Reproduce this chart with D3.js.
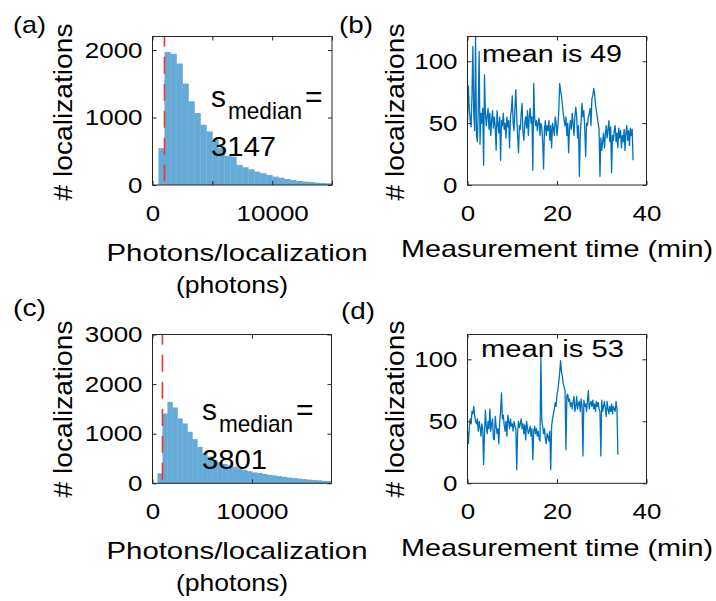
<!DOCTYPE html>
<html><head><meta charset="utf-8">
<script src="https://cdn.jsdelivr.net/npm/d3@7"></script>
<style>
body{margin:0;background:#fff}
svg{display:block}
text{font-family:"Liberation Sans",Arial,Helvetica,sans-serif;fill:#000}
</style>
</head><body>
<svg id="c" width="716" height="601"></svg>
<script>
// ---------- data ----------
const histBinStart = 500;          // photons, left edge of first bin
const histBinWidth = 500;          // photons per bin
const histA_counts = [546,1969,1944,1800,1503,1240,1066,893,794,670,546,432,422,298,263,233,198,174,149,124,109,89,74,60,50,45,35,30,25];
const histC_counts = [201,1408,1642,1529,1308,1207,1038,891,736,604,540,470,430,390,360,335,300,270,245,220,210,190,170,160,145,130,115,105,95,85,75,65,60,50,45];
const thresholdPhotons = 1000;
const medianA = "3147";
const medianC = "3801";

const sampleMinutes = 0.2;         // sampling interval of the time series
const seriesB = [50,80,62,52,47, 72,112,58,44,120, 40,35,62,108,33, 58,50,62,16,89,
  58,48,56,62,45, 58,40,52,60,46, 55,47,28,60,50, 42,55,20,52,48,
  58,45,50,38,55, 47,52,30,55,60, 72,50,44,62,77, 55,40,26,48,45,
  58,66,42,36,50, 55,46,60,40,55, 62,50,55,12,82, 55,48,52,44,50,
  54,40,50,47,35, 13,45,52,40,48, 44,52,36,48,30, 50,46,40,55,50,
  40,48,60,82,76, 72,65,58,52,48, 55,40,50,26,46, 52,45,58,50,40,
  56,63,55,38,48, 7,40,52,66,55, 60,45,23,50,48, 55,58,62,48,70,
  72,78,74,65,60, 55,50,45,7,38, 28,35,42,30,40, 48,38,45,52,35,
  47,10,40,36,44, 48,35,42,30,46, 38,44,30,40,35, 45,28,42,48,36,
  44,32,46,40,45,20];
const seriesD = [42,32,45,52,48, 58,56,62,55,50, 48,52,42,50,45, 38,48,44,15,40,
  59,46,40,50,44, 60,42,48,52,36, 35,54,46,40,44, 32,50,58,73,52,
  55,47,42,50,38, 55,50,44,52,46, 48,42,50,46,44, 11,42,50,45,48,
  52,44,48,40,47, 35,50,45,40,42, 46,38,44,19,42, 46,40,44,38,42,
  36,34,102,50,46, 40,44,36,32,40, 38,34,42,11,46, 52,56,60,65,62,
  72,75,82,89,99, 90,86,80,78,75, 27,70,72,66,68, 62,65,60,66,70,
  58,62,70,60,64, 66,58,68,62,22, 67,62,64,58,66, 75,60,64,66,62,
  67,60,64,58,66, 62,65,60,58,22, 67,58,62,66,60, 54,66,60,56,62,
  58,64,56,62,60, 58,66,60,23];
const meanB = "49";
const meanD = "53";

const xTicksA = [0,5000,10000,15000], xLabelsA = [0,10000];
const xTicksC = [0,10000],            xLabelsC = [0,10000];
const yTicksA = [0,1000,2000];
const yTicksC = [0,1000,2000,3000];
const xTicksT = [0,20,40];
const yTicksT = [0,50,100];

// ---------- drawing ----------
const svg = d3.select("#c");
const AX = "#262626";
const TICK_SX = 1.18;

function txt(parent, s, x, y, size, opts = {}) {
  const t = parent.append("text").text(s)
    .attr("font-size", size)
    .attr("text-anchor", opts.anchor || "start");
  let tr = `translate(${x},${y})`;
  if (opts.rotate) tr += ` rotate(${opts.rotate})`;
  t.attr("transform", tr);
  if (opts.len) t.attr("textLength", opts.len).attr("lengthAdjust", "spacingAndGlyphs");
  return t;
}

function axes(g, x, y, xTicks, xLabels, yTicks) {
  const [x0, x1] = x.range(), [y1, y0] = y.range();
  const fmtX = d => xLabels.includes(d) ? String(d) : "";
  const bottom = g.append("g").attr("transform", `translate(0,${y1})`)
    .call(d3.axisBottom(x).tickValues(xTicks).tickFormat(fmtX).tickSize(-4).tickPadding(20));
  const top = g.append("g").attr("transform", `translate(0,${y0})`)
    .call(d3.axisTop(x).tickValues(xTicks).tickFormat("").tickSize(-4));
  const left = g.append("g").attr("transform", `translate(${x0},0)`)
    .call(d3.axisLeft(y).tickValues(yTicks).tickFormat(d => String(d)).tickSize(-4).tickPadding(10));
  const right = g.append("g").attr("transform", `translate(${x1},0)`)
    .call(d3.axisRight(y).tickValues(yTicks).tickFormat("").tickSize(-4));
  [bottom, top, left, right].forEach(a => {
    a.attr("font-size", 22).attr("font-family", null);
    a.select(".domain").remove();
    a.selectAll(".tick line").attr("stroke", AX).attr("stroke-width", 1);
    a.selectAll(".tick text").each(function () {
      const t = d3.select(this);
      const tx = +t.attr("x") || 0, ty = +t.attr("y") || 0;
      t.attr("x", null).attr("y", null).attr("fill", "#000")
        .attr("transform", `translate(${tx},${ty}) scale(${TICK_SX},1)`);
    });
  });
  g.append("rect").attr("x", x0).attr("y", y0).attr("width", x1 - x0).attr("height", y1 - y0)
    .attr("fill", "none").attr("stroke", AX).attr("stroke-width", 1);
}

function histPanel(counts, xmax, ymax, box, xTicks, xLabels, yTicks, median, subPos) {
  const g = svg.append("g");
  const x = d3.scaleLinear().domain([0, xmax]).range([box.x0, box.x1]);
  const y = d3.scaleLinear().domain([0, ymax]).range([box.y1, box.y0]);
  const bins = counts.map((c, i) => ({ lo: histBinStart + i * histBinWidth, hi: histBinStart + (i + 1) * histBinWidth, c }));
  g.selectAll("rect.bar").data(bins).join("rect").attr("class", "bar")
    .attr("x", d => x(d.lo)).attr("width", d => x(d.hi) - x(d.lo) + 0.4)
    .attr("y", d => y(d.c)).attr("height", d => y(0) - y(d.c))
    .attr("fill", "rgb(102,170,215)");
  g.append("line").attr("x1", x(thresholdPhotons)).attr("x2", x(thresholdPhotons))
    .attr("y1", box.y0).attr("y2", box.y1)
    .attr("stroke", "#ee3434").attr("stroke-width", 1.6)
    .attr("stroke-dasharray", "17,10").attr("stroke-dashoffset", 6.7);
  axes(g, x, y, xTicks, xLabels, yTicks);
  // s_median = value
  txt(g, "s", subPos.x, subPos.y, 30);
  txt(g, "median", subPos.x + 17, subPos.y + 11.5, 24, { len: 74 });
  txt(g, "=", subPos.x + 94, subPos.y, 30);
  txt(g, median, subPos.x, subPos.y + 48.5, 28, { len: 65 });
  return g;
}

function timePanel(series, box, mean, meanPos) {
  const g = svg.append("g");
  const x = d3.scaleLinear().domain([0, 40]).range([box.x0, box.x1]);
  const y = d3.scaleLinear().domain([0, 120]).range([box.y1, box.y0]);
  const line = d3.line().x((d, i) => x(i * sampleMinutes)).y(d => y(d));
  g.append("path").datum(series).attr("d", line)
    .attr("fill", "none").attr("stroke", "#0072BD").attr("stroke-width", 1.3)
    .attr("stroke-linejoin", "round");
  axes(g, x, y, xTicksT, xTicksT, yTicksT);
  txt(g, "mean is " + mean, meanPos.x, meanPos.y, 23, { len: meanPos.len });
  return g;
}

const boxA = { x0: 152.5, x1: 332, y0: 36.5, y1: 185 };
const boxB = { x0: 467.5, x1: 646.5, y0: 36.5, y1: 185 };
const boxC = { x0: 152.5, x1: 331.5, y0: 334.5, y1: 483.3 };
const boxD = { x0: 467.5, x1: 646.5, y0: 334.5, y1: 483.3 };

histPanel(histA_counts, 15000, 2200, boxA, xTicksA, xLabelsA, yTicksA, medianA, { x: 211, y: 107 });
histPanel(histC_counts, 18000, 3000, boxC, xTicksC, xLabelsC, yTicksC, medianC, { x: 202, y: 420 });
timePanel(seriesB, boxB, meanB, { x: 482, y: 61.7, len: 140 });
timePanel(seriesD, boxD, meanD, { x: 481, y: 357, len: 143 });

// axis labels and panel letters
const L = svg.append("g");
function xLabelHist(dy) {
  txt(L, "Photons/localization", 237, 261 + dy, 24, { anchor: "middle", len: 261 });
  txt(L, "(photons)", 232, 293 + dy, 24, { anchor: "middle", len: 112 });
}
xLabelHist(0); xLabelHist(298.3);
txt(L, "Measurement time (min)", 557, 257, 24, { anchor: "middle", len: 312 });
txt(L, "Measurement time (min)", 557, 555.5, 24, { anchor: "middle", len: 312 });
[[71.5, 112], [404, 112], [71.5, 409], [404, 409]].forEach(([bx, cy]) =>
  txt(L, "# localizations", bx, cy, 25, { anchor: "middle", rotate: -90, len: 177 }));
txt(L, "(a)", 13, 33, 24, { len: 33 });
txt(L, "(b)", 339, 33, 24, { len: 34 });
txt(L, "(c)", 13, 316, 24, { len: 33 });
txt(L, "(d)", 341, 319, 24, { len: 34 });
</script>
</body></html>
